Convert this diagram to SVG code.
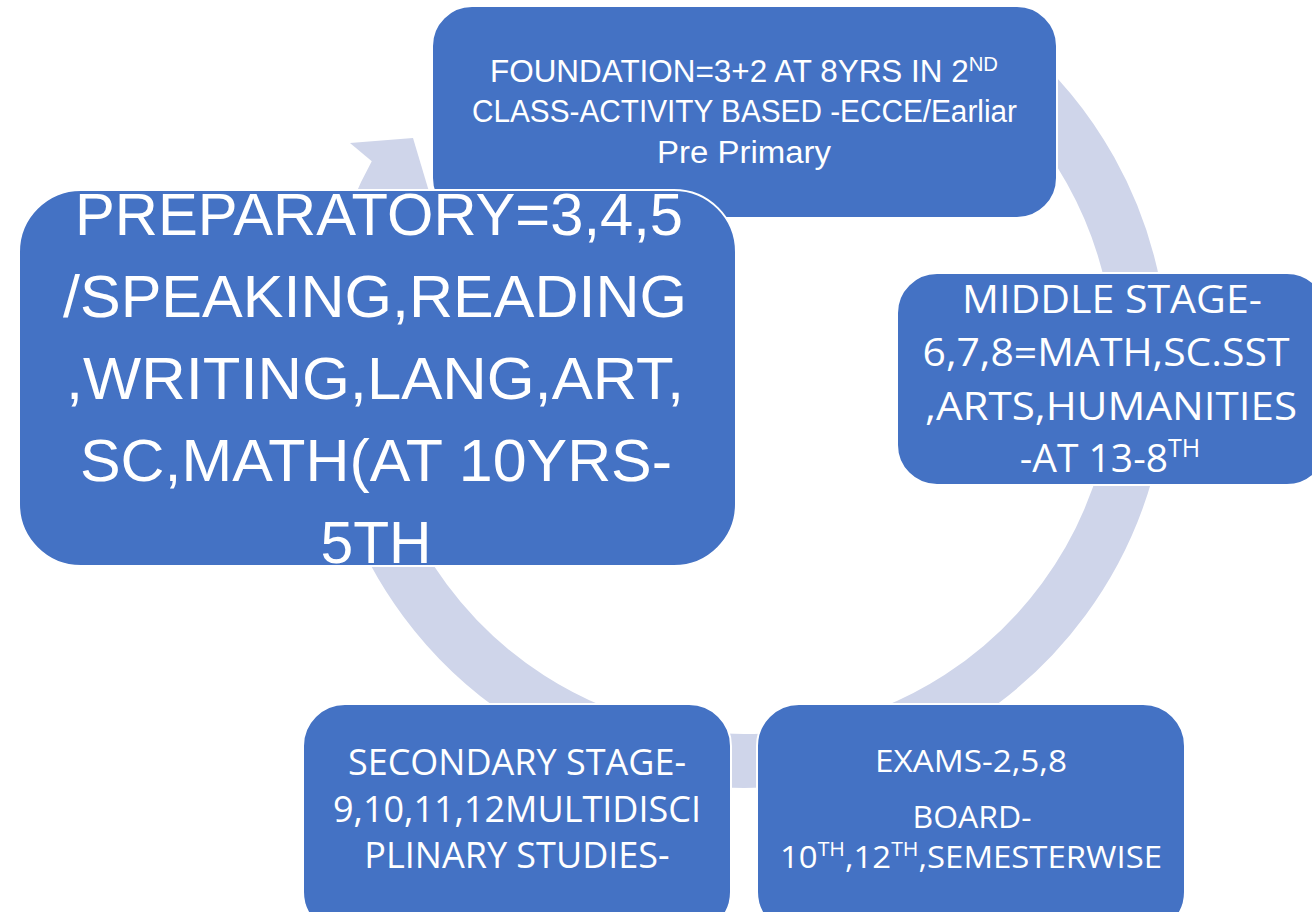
<svg xmlns="http://www.w3.org/2000/svg" width="1312" height="912" viewBox="0 0 1312 912">
<style>
.box{fill:#4472C4;stroke:#FFFFFF;stroke-width:2}
.ring{fill:none;stroke:#CFD5EA;stroke-width:54}
.head{fill:#CFD5EA}
.cal{font-family:"Liberation Sans Narrow","Liberation Sans",Arial,sans-serif;fill:#FFFFFF;text-anchor:middle}
.seg{font-family:"Open Sans","Noto Sans","DejaVu Sans",sans-serif;fill:#FFFFFF;text-anchor:middle}
</style>
<rect width="1312" height="912" fill="#FFFFFF"/>
<g id="connectors">
<path class="ring" d="M 999.2 59.9 A 397 397 0 1 1 396.8 171.5"/>
<polygon class="head" points="350,143 413,138 436,215"/>
</g>
<g id="foundation">
<rect class="box" x="432" y="6" width="625" height="212" rx="40"/>
<text class="cal" font-size="31" x="744" y="82" textLength="508" lengthAdjust="spacingAndGlyphs">FOUNDATION=3+2 AT 8YRS IN 2<tspan font-size="20" dy="-11">ND</tspan></text>
<text class="cal" font-size="31" x="744.5" y="122" textLength="545" lengthAdjust="spacingAndGlyphs">CLASS-ACTIVITY BASED -ECCE/Earliar</text>
<text class="cal" font-size="31" x="744" y="163" textLength="174" lengthAdjust="spacingAndGlyphs">Pre Primary</text>
</g>
<g id="middle">
<rect class="box" x="897" y="273" width="430" height="212" rx="40"/>
<text class="seg" font-size="38" x="1112" y="313" textLength="300" lengthAdjust="spacingAndGlyphs">MIDDLE STAGE-</text>
<text class="seg" font-size="38" x="1106" y="366" textLength="367" lengthAdjust="spacingAndGlyphs">6,7,8=MATH,SC.SST</text>
<text class="seg" font-size="38" x="1111" y="420" textLength="372" lengthAdjust="spacingAndGlyphs">,ARTS,HUMANITIES</text>
<text class="seg" font-size="39" x="1110" y="472">-AT 13-8<tspan font-size="25" dy="-15">TH</tspan></text>
</g>
<g id="exams">
<rect class="box" x="757" y="704" width="428" height="230" rx="42"/>
<text class="seg" font-size="31" x="971" y="772" textLength="192" lengthAdjust="spacingAndGlyphs">EXAMS-2,5,8</text>
<text class="seg" font-size="31" x="972" y="828" textLength="119" lengthAdjust="spacingAndGlyphs">BOARD-</text>
<text class="seg" font-size="31" x="971" y="868" textLength="382" lengthAdjust="spacingAndGlyphs">10<tspan font-size="20" dy="-12">TH</tspan><tspan dy="12">,12</tspan><tspan font-size="20" dy="-12">TH</tspan><tspan dy="12">,SEMESTERWISE</tspan></text>
</g>
<g id="secondary">
<rect class="box" x="303" y="704" width="428" height="230" rx="42"/>
<text class="seg" font-size="36" x="517" y="775">SECONDARY STAGE-</text>
<text class="seg" font-size="36" x="517" y="822">9,10,11,12MULTIDISCI</text>
<text class="seg" font-size="36" x="517" y="868">PLINARY STUDIES-</text>
</g>
<g id="preparatory">
<rect class="box" x="19" y="190" width="717" height="376" rx="62"/>
<text class="cal" font-size="59" x="379" y="235" textLength="608" lengthAdjust="spacingAndGlyphs">PREPARATORY=3,4,5</text>
<text class="cal" font-size="59" x="375" y="317" textLength="624" lengthAdjust="spacingAndGlyphs">/SPEAKING,READING</text>
<text class="cal" font-size="59" x="375" y="399" textLength="618" lengthAdjust="spacingAndGlyphs">,WRITING,LANG,ART,</text>
<text class="cal" font-size="59" x="376" y="481" textLength="592" lengthAdjust="spacingAndGlyphs">SC,MATH(AT 10YRS-</text>
<text class="cal" font-size="59" x="376" y="563" textLength="111" lengthAdjust="spacingAndGlyphs">5TH</text>
</g>
</svg>
